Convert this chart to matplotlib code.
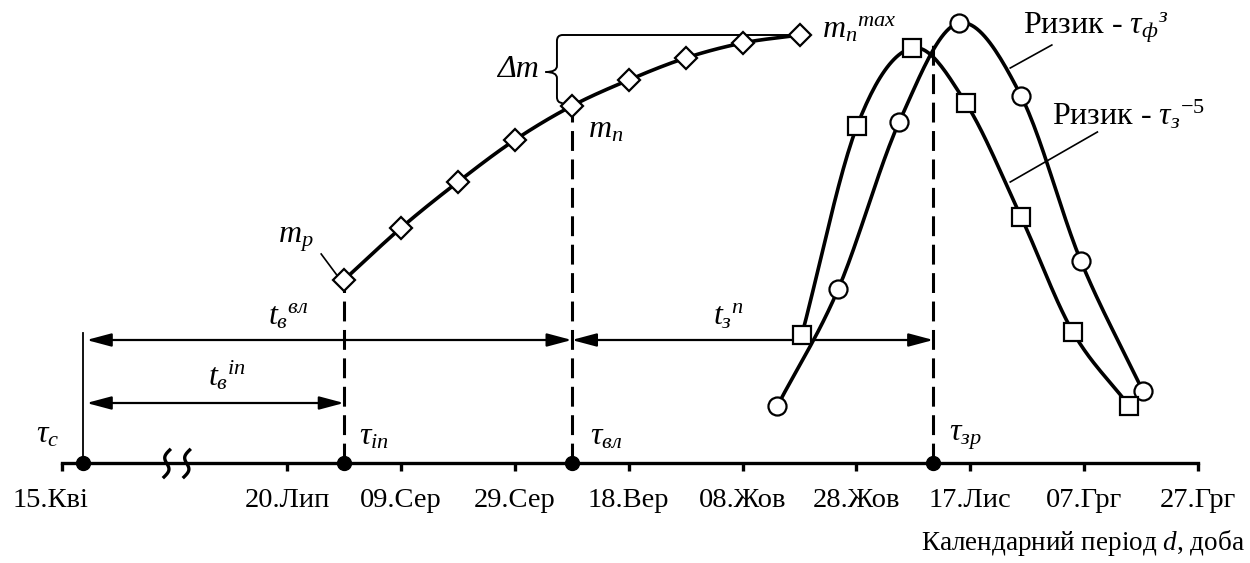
import matplotlib
matplotlib.use('Agg')
import matplotlib.pyplot as plt
import numpy as np
from matplotlib.path import Path
from matplotlib.patches import PathPatch, FancyArrowPatch
from matplotlib.transforms import ScaledTranslation

plt.rcParams['font.family'] = ['Liberation Serif', 'DejaVu Serif']
plt.rcParams['mathtext.fontset'] = 'custom'
plt.rcParams['mathtext.rm'] = 'Liberation Serif'
plt.rcParams['mathtext.it'] = 'Liberation Serif:italic'

# calendar axis, days counted from 20.Лип (the part before it is broken)
tick_days = [-39.5, 0, 20, 40, 60, 80, 100, 120, 140, 160]
tick_labels = ['15.Кві', '20.Лип', '09.Сер', '29.Сер', '18.Вер',
               '08.Жов', '28.Жов', '17.Лис', '07.Грг', '27.Грг']

# mass growth m
m_days = [10, 20, 30, 40, 50, 60, 70, 80, 90]
m_vals = [18.3, 23.5, 28.1, 32.3, 35.7, 38.3, 40.5, 42.0, 42.8]

# risk curves
risk_f_days = [86.1, 96.8, 107.5, 118.0, 128.9, 139.4, 150.3]
risk_f_vals = [5.7, 17.4, 34.1, 44.0, 36.7, 20.2, 7.2]
risk_z_days = [90.4, 100.1, 109.8, 119.2, 128.9, 138.0, 147.9]
risk_z_vals = [12.8, 33.7, 41.5, 36.0, 24.6, 13.1, 5.7]

# key moments on the axis
tau_c, tau_in, tau_vl, tau_zr = -35.8, 10, 50, 113.5


def smooth(x, y, n=25):
    # catmull-rom through the points (like a "smoothed line")
    x = np.asarray(x, float)
    y = np.asarray(y, float)
    px = np.r_[2 * x[0] - x[1], x, 2 * x[-1] - x[-2]]
    py = np.r_[2 * y[0] - y[1], y, 2 * y[-1] - y[-2]]
    t = np.linspace(0, 1, n)
    xs, ys = [], []
    for i in range(1, len(px) - 2):
        for p, out in ((px, xs), (py, ys)):
            p0, p1, p2, p3 = p[i - 1], p[i], p[i + 1], p[i + 2]
            out.extend(0.5 * (2 * p1 + (-p0 + p2) * t
                              + (2 * p0 - 5 * p1 + 4 * p2 - p3) * t ** 2
                              + (-p0 + 3 * p1 - 3 * p2 + p3) * t ** 3))
    return xs, ys


fig = plt.figure(figsize=(12.5, 5.63), dpi=100)
ax = fig.add_axes([0, 0, 1, 1])
ax.set_xlim(-50.4, 169.1)
ax.set_ylim(-10, 46.3)

for s in ['top', 'right', 'left']:
    ax.spines[s].set_visible(False)
ax.spines['bottom'].set_position(('data', 0))
ax.spines['bottom'].set_bounds(tick_days[0], tick_days[-1])
ax.spines['bottom'].set_linewidth(2.4)
ax.set_yticks([])
ax.set_xticks(tick_days)
ax.set_xticklabels(tick_labels, fontsize=20.5)
ax.tick_params(axis='x', direction='out', length=6, width=2.4, pad=12)
lab0 = ax.get_xticklabels()[0]
lab0.set_transform(lab0.get_transform() + ScaledTranslation(-0.12, 0, fig.dpi_scale_trans))
ax.text(139.7, -8.0, 'Календарний період $\\mathit{d}$, доба', fontsize=19.5,
        ha='center', va='center')

# axis break
t = np.linspace(0, 1, 40)
for xc in [-21.1, -17.6]:
    ax.plot(xc - 0.6 * np.sin(2 * np.pi * t) + 1.0 * (0.5 - t), 1.3 - 2.7 * t,
            color='black', lw=2.4, zorder=4)

# vertical markers
ax.plot([tau_c, tau_c], [0, 13.0], color='black', lw=1.3)
dash = dict(color='black', lw=2.2, dashes=(6.5, 2.8), zorder=2)
ax.plot([tau_in, tau_in], [0, m_vals[0]], **dash)
ax.plot([tau_vl, tau_vl], [0, m_vals[4]], **dash)
ax.plot([tau_zr, tau_zr], [0, 42.3], **dash)
ax.plot([tau_c, tau_in, tau_vl, tau_zr], [0, 0, 0, 0], 'o', ms=10,
        color='black', zorder=6, clip_on=False)

# dimension arrows
arr = '<|-|>,head_length=0.75,head_width=0.2'
for x0, x1, y in [(tau_c + 0.6, tau_vl, 12.3), (tau_c + 0.6, tau_in, 6.0),
                  (tau_vl, tau_zr, 12.3)]:
    ax.add_patch(FancyArrowPatch((x0, y), (x1, y), arrowstyle=arr,
                                 mutation_scale=20, lw=1.6, color='black',
                                 shrinkA=0, shrinkB=0, zorder=3))

# mass curve
sx, sy = smooth(m_days, m_vals)
ax.plot(sx, sy, color='black', lw=2.6, zorder=3)
ax.plot(m_days, m_vals, 'D', ms=11, mfc='white', mec='black', mew=1.6, zorder=5)

# brace for delta m
x0, top, mid, bot = 47.4, m_vals[-1], 39.1, 36.0
rx, ry, tip = 1.0, 0.6, 45.4
verts = [(m_days[-1], top), (x0 + rx, top), (x0, top), (x0, top - ry),
         (x0, mid + ry), (x0, mid), (tip, mid), (x0, mid), (x0, mid - ry),
         (x0, bot + ry), (x0, bot), (x0 + rx, bot)]
codes = [Path.MOVETO, Path.LINETO, Path.CURVE3, Path.CURVE3,
         Path.LINETO, Path.CURVE3, Path.CURVE3, Path.CURVE3, Path.CURVE3,
         Path.LINETO, Path.CURVE3, Path.CURVE3]
ax.add_patch(PathPatch(Path(verts, codes), fill=False, lw=1.4, color='black', zorder=4))

# risk curves
fx, fy = smooth(risk_f_days, risk_f_vals)
ax.plot(fx, fy, color='black', lw=2.6, zorder=3)
ax.plot(risk_f_days, risk_f_vals, 'o', ms=13, mfc='white', mec='black', mew=1.6, zorder=5)
zx, zy = smooth(risk_z_days, risk_z_vals)
ax.plot(zx, zy, color='black', lw=2.6, zorder=3)
ax.plot(risk_z_days, risk_z_vals, 's', ms=12.5, mfc='white', mec='black', mew=1.6, zorder=5)

# leader lines
for (xa, ya), (xb, yb) in [((6.0, 20.9), (9.0, 18.6)),
                           ((127.0, 39.5), (134.3, 41.8)),
                           ((127.0, 28.1), (142.3, 33.1))]:
    ax.plot([xa, xb], [ya, yb], color='black', lw=1.2)

# labels
fs = 23
ax.text(0.2, 14.6, r'$t_{\mathit{в}}{}^{\mathit{вл}}$', fontsize=fs, ha='center', va='center')
ax.text(-10.5, 8.7, r'$t_{\mathit{в}}{}^{\mathit{in}}$', fontsize=fs, ha='center', va='center')
ax.text(77.5, 14.6, r'$t_{\mathit{з}}{}^{\mathit{n}}$', fontsize=fs, ha='center', va='center')
ax.text(-42.1, 2.8, r'$\tau_c$', fontsize=fs, ha='center', va='center')
ax.text(15.2, 2.6, r'$\tau_{in}$', fontsize=fs, ha='center', va='center')
ax.text(56.0, 2.6, r'$\tau_{\mathit{вл}}$', fontsize=fs, ha='center', va='center')
ax.text(119.1, 2.6, r'$\tau_{\mathit{зр}}$', fontsize=fs, ha='center', va='center')
ax.text(1.6, 22.3, r'$m_p$', fontsize=fs, ha='center', va='center')
ax.text(55.9, 33.3, r'$m_n$', fontsize=fs, ha='center', va='center')
ax.text(94.0, 43.3, r'$m_n{}^{max}$', fontsize=fs, ha='left', va='center')
ax.text(40.6, 39.3, 'Δm', fontsize=fs, style='italic', ha='center', va='center')
ax.text(129.3, 43.5, r'Ризик - $\tau_{\mathit{ф}}{}^{з}$', fontsize=fs, ha='left', va='center')
ax.text(134.4, 34.8, r'Ризик - $\tau_{\mathit{з}}{}^{\mathit{-5}}$', fontsize=fs, ha='left', va='center')

fig.savefig('out.png', dpi=100)
